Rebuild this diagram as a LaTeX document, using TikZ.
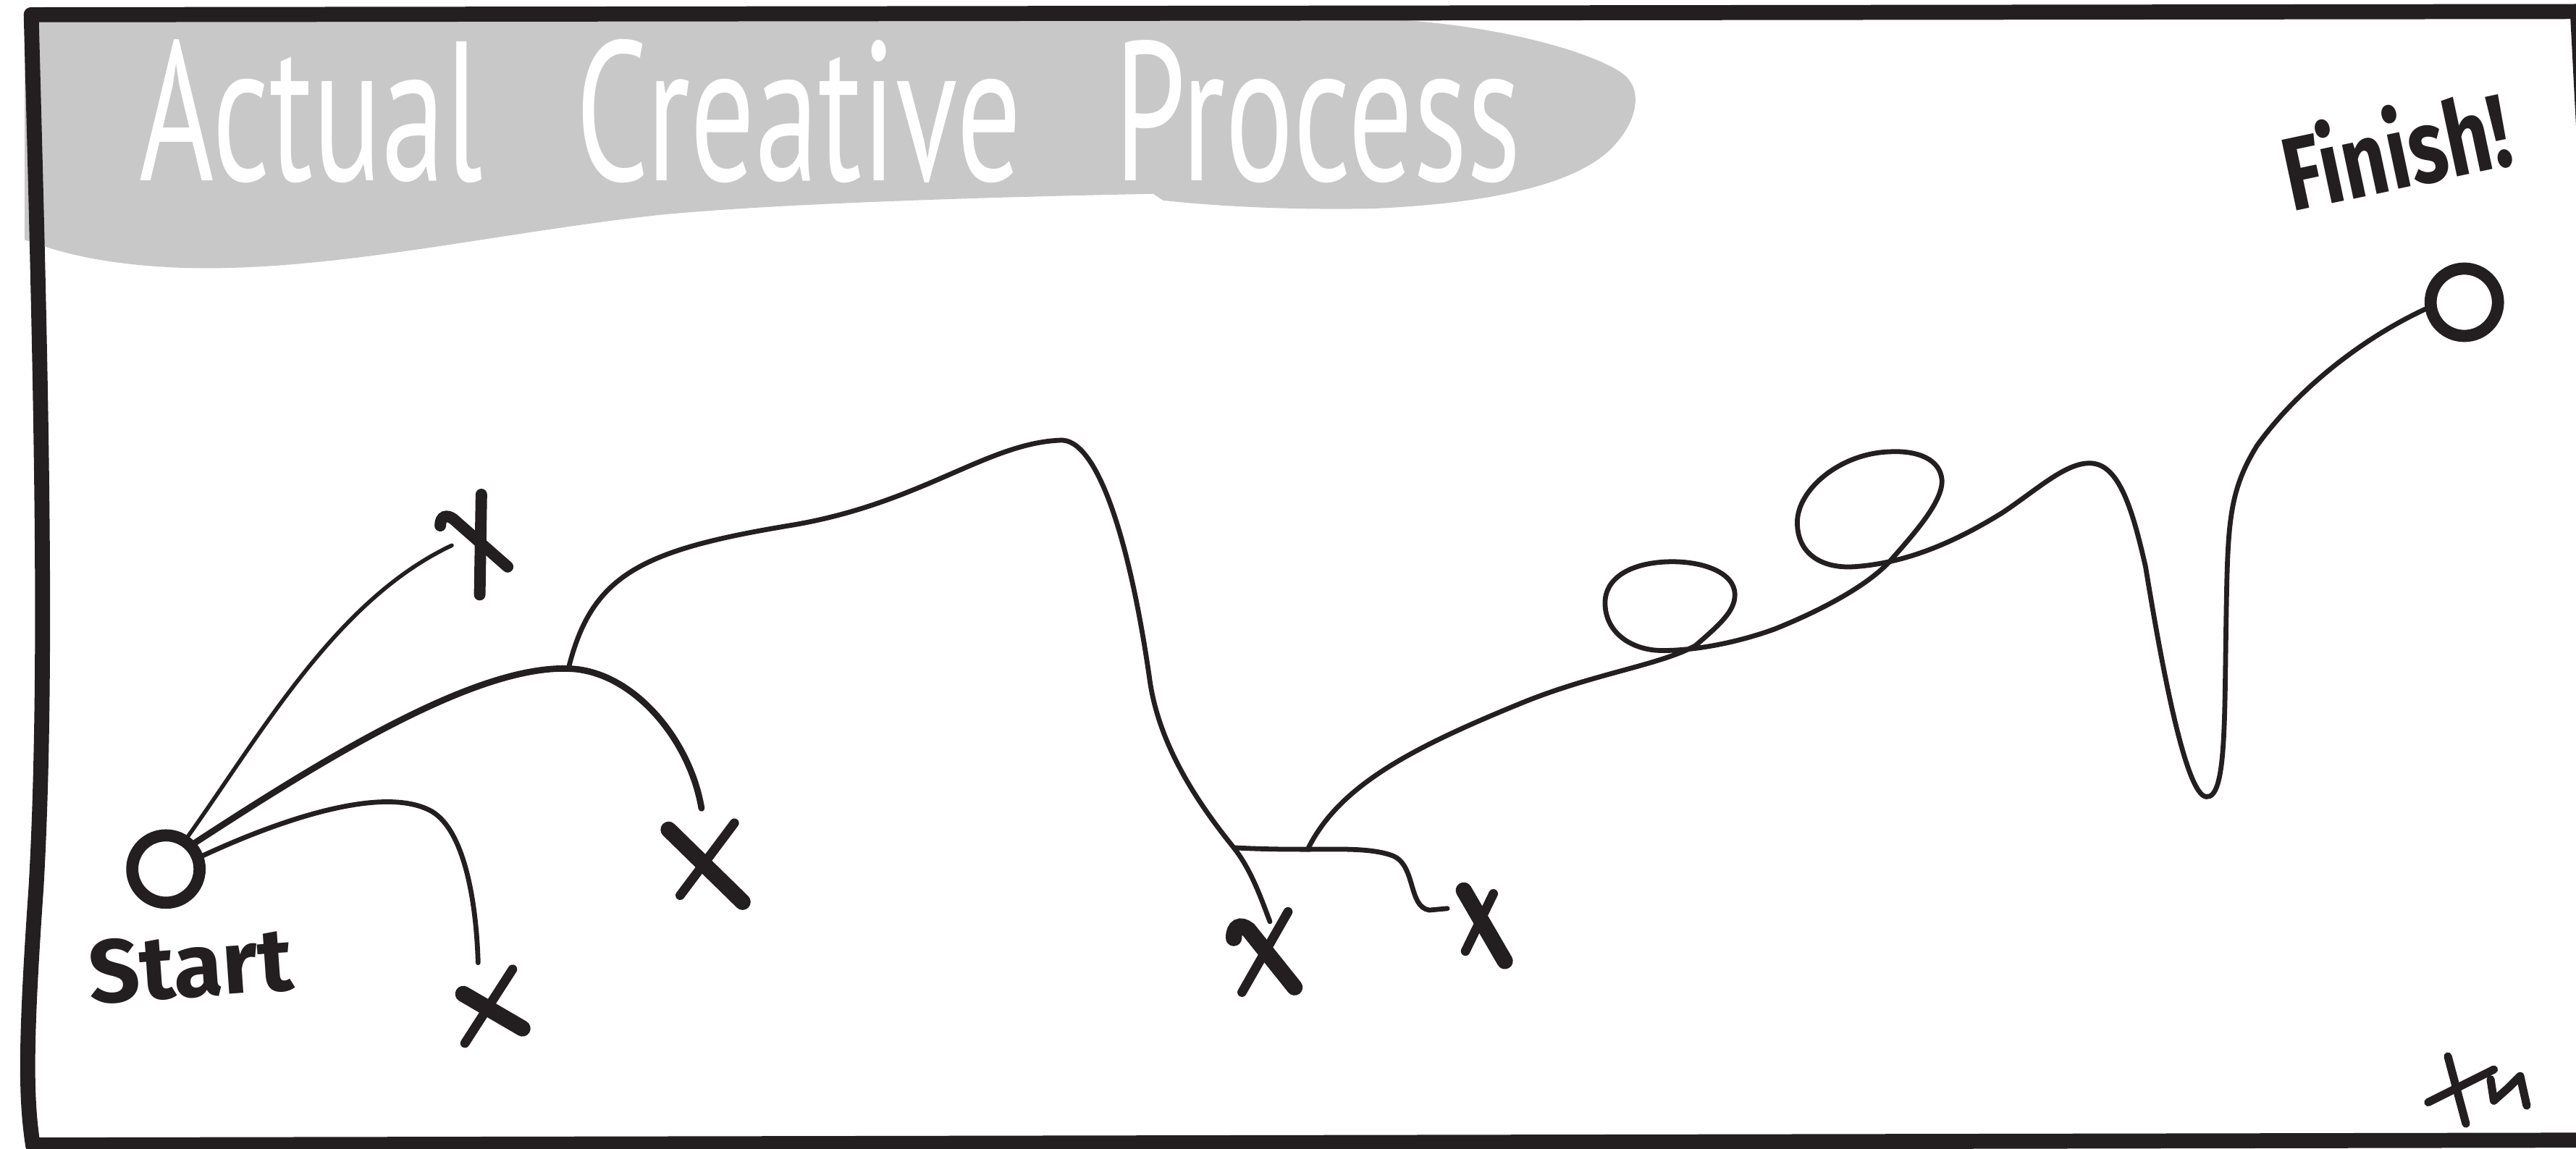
\documentclass[tikz,border=0pt]{standalone}
\usepackage{fontspec}
\usepackage{tikz}
\usetikzlibrary{calc}
\usepackage{xcolor}
\usepackage{graphicx}
\newfontfamily\handfont{Fira Sans}
\newfontfamily\titlefont{PT Sans}
\definecolor{inkBlack}{HTML}{231F20}
\definecolor{bannerGray}{HTML}{C8C8C8}
\tikzset{
  sketchframe/.style={draw=inkBlack, line width=2.6pt, line cap=round, line join=round},
  trail/.style={draw=inkBlack, line width=0.85pt, line cap=round},
  endpoint/.style={circle, draw=inkBlack, line width=2.1pt, minimum size=4.1mm, inner sep=0pt},
  xbold/.style={draw=inkBlack, line width=2.8pt, line cap=round},
  xthin/.style={draw=inkBlack, line width=1.6pt, line cap=round},
  sig/.style={draw=inkBlack, line width=1.4pt, line cap=round, line join=round},
  handlbl/.style={font=\handfont\bfseries\fontsize{15.5pt}{17pt}\selectfont, text=inkBlack, inner sep=0pt},
}

\begin{document}
\begin{tikzpicture}[x=0.1mm, y=-0.1mm]
\useasboundingbox (0,0) rectangle (1568,699);
\clip (0,0) rectangle (1568,699);

% title banner
\fill[bannerGray] (15,12) -- (850,12)
  .. controls (915,16) and (970,32) .. (988,45)
  .. controls (1002,56) and (995,78) .. (978,93)
  .. controls (955,113) and (905,124) .. (835,127)
  .. controls (780,128) and (735,125) .. (708,122)
  -- (702,118)
  .. controls (600,120) and (470,124) .. (400,131)
  .. controls (300,142) and (200,166) .. (110,163)
  .. controls (60,161) and (35,153) .. (15,146) -- cycle;
\node[anchor=base west, inner sep=0pt, text=white] (title) at (84,110)
  {\resizebox{84.1mm}{8.6mm}{\titlefont Actual\hspace{0.73em}Creative\hspace{0.73em}Process}};

% frame
\draw[sketchframe] (19,9) -- (1572,7);
\draw[sketchframe] (19,9) .. controls (24,200) and (30,400) .. (22,540)
  .. controls (15,640) and (16,670) .. (20,697);
\draw[sketchframe] (20,697) -- (1572,694);
\draw[sketchframe] (1569,8) -- (1605,700);

% start and finish
\node[endpoint] (start) at (101,529) {};
\node[endpoint] (finish) at (1500,184) {};
\node[handlbl, rotate=4] (startlbl) at (116,588) {Start};
\node[handlbl, rotate=12, font=\handfont\bfseries\fontsize{18pt}{20pt}\selectfont] (finishlbl) at (1458,90)
  {\scalebox{0.76}[1]{Finish!}};

\coordinate (endA) at (275,332);
\coordinate (endB) at (427,492);
\coordinate (endC) at (291,586);
\coordinate (endD) at (773,561);
\coordinate (endE) at (881,553);
\coordinate (fork1) at (346,407);
\coordinate (fork2) at (751,516);
\coordinate (fork3) at (796,517);
\coordinate (cross1) at (1032,393);
\coordinate (cross2) at (1150,342);

% dead ends
\draw[trail, line width=0.7pt] (start.56) .. controls (160,445) and (205,365) .. (endA);
\draw[trail, line width=1.1pt] (start.42) .. controls (200,460) and (290,405) .. (fork1)
  .. controls (385,408) and (420,450) .. (endB);
\draw[trail] (start.20) .. controls (175,497) and (235,478) .. (263,494)
  .. controls (283,506) and (290,550) .. (endC);
\draw[trail] (fork1) .. controls (360,350) and (390,335) .. (480,320)
  .. controls (560,307) and (600,270) .. (645,268)
  .. controls (668,266) and (688,330) .. (700,415)
  .. controls (706,455) and (730,490) .. (fork2)
  .. controls (762,530) and (768,548) .. (endD);
\draw[trail] (fork2) .. controls (770,517) and (785,517) .. (fork3)
  .. controls (815,517) and (835,516) .. (848,521)
  .. controls (862,527) and (857,552) .. (870,554) -- (endE);

% loops to the finish
\draw[trail] (fork3) .. controls (815,478) and (860,455) .. (926,428)
  .. controls (970,410) and (1010,405) .. (cross1)
  .. controls (1047,380) and (1056,372) .. (1056,362)
  .. controls (1056,348) and (1035,341) .. (1014,342)
  .. controls (992,343) and (977,352) .. (977,367)
  .. controls (977,385) and (993,396) .. (1012,396)
  .. controls (1030,396) and (1055,392) .. (1080,383)
  .. controls (1105,373) and (1135,358) .. (cross2)
  .. controls (1165,325) and (1183,305) .. (1182,292)
  .. controls (1181,280) and (1168,274) .. (1150,275)
  .. controls (1120,276) and (1094,298) .. (1094,318)
  .. controls (1094,338) and (1110,346) .. (1128,345)
  .. controls (1160,343) and (1190,330) .. (1219,312)
  .. controls (1240,298) and (1258,281) .. (1273,282)
  .. controls (1290,283) and (1298,310) .. (1306,345)
  .. controls (1315,400) and (1330,484) .. (1343,485)
  .. controls (1355,486) and (1354,440) .. (1355,380)
  .. controls (1356,320) and (1356,300) .. (1374,271)
  .. controls (1400,235) and (1440,205) .. (finish.190);

% crosses
\draw[xbold, line width=2pt] (293,301) -- (292,362);
\draw[xbold, line width=2pt] (268,320) .. controls (268,314) and (272,313) .. (276,316) -- (309,345);
\draw[xthin] (447,501) -- (414,545);
\draw[xbold] (407,505) -- (452,549);
\draw[xthin] (312,590) -- (283,635);
\draw[xbold] (282,605) -- (318,626);
\draw[xthin] (784,555) -- (756,604);
\draw[xbold] (751,571) .. controls (751,564) and (755,562) .. (760,566) -- (788,601);
\draw[xthin] (909,544) -- (892,579);
\draw[xbold] (891,542) -- (916,585);

% signature
\draw[sig] (1490,643) -- (1501,684);
\draw[sig] (1478,671) -- (1518,651);
\draw[sig] (1516,657) -- (1518,670) -- (1527,662) -- (1534,655) -- (1538,673);
\end{tikzpicture}
\end{document}
